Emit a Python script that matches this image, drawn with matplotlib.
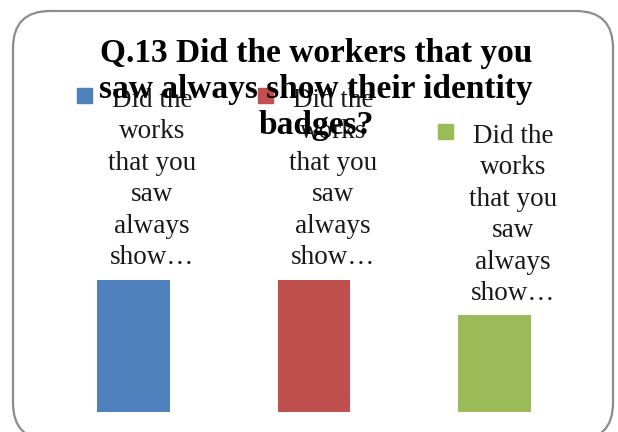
import matplotlib.pyplot as plt
from matplotlib.patches import FancyBboxPatch, Rectangle

categories = ["Yes", "No", "Not sure"]
values = [15, 15, 11]
colors = ["#4f81bd", "#c0504d", "#9bbb59"]
series_label = "Did the\nworks\nthat you\nsaw\nalways\nshow\u2026"
title = "Q.13 Did the workers that you\nsaw always show their identity\nbadges?"

W, H = 618, 432
fig = plt.figure(figsize=(W / 100, H / 100), dpi=100)
serif = ["Liberation Serif", "DejaVu Serif"]


def px(x, y):
    # pixel coords (top-left origin) -> figure fraction
    return x / W, 1 - y / H


# rounded chart frame, runs past the bottom edge
frame = FancyBboxPatch(px(13, 440), (613 - 13) / W, (440 - 11) / H,
                       boxstyle="round,pad=0,rounding_size=0.06",
                       transform=fig.transFigure, fill=False,
                       edgecolor="#8c8c8c", linewidth=1.6, mutation_aspect=W / H)
fig.patches.append(frame)

ax = fig.add_axes([43 / W, (H - 411.5) / H, (585 - 43) / W, 140 / H])
ax.bar(range(len(categories)), values, width=0.404, color=colors)
ax.set_xlim(-0.5, 2.5)
ax.set_ylim(0, 16)
ax.axis("off")

# legend entries, laid out the way the chart tool placed them
legend_pos = [(77, 88, 152, 88), (258, 88, 333, 88), (438, 124, 513, 124)]
for (mx, my, tx, ty), c in zip(legend_pos, colors):
    fig.patches.append(Rectangle(px(mx, my + 15), 15 / W, 15 / H,
                                 transform=fig.transFigure, color=c))
    fig.text(*px(tx, ty), series_label, ha="center", va="top",
             fontsize=19.5, family=serif, linespacing=1.34, color="#1a1a1a")

fig.text(*px(316, 38), title, ha="center", va="top", fontsize=24,
         fontweight="bold", family=serif, linespacing=1.2, zorder=5)

fig.savefig("out.png", dpi=100)
